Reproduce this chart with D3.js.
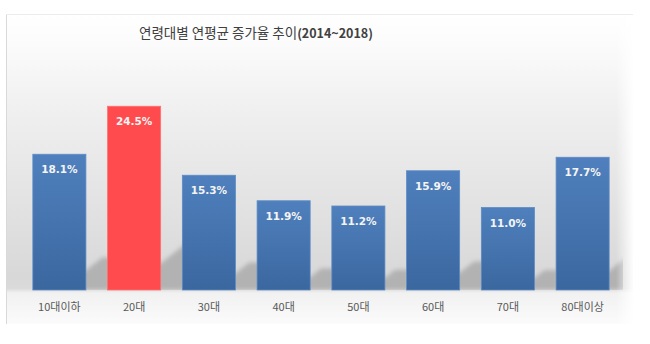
<!DOCTYPE html>
<html><head><meta charset="utf-8">
<script src="https://cdn.jsdelivr.net/npm/d3@7"></script>
<style>body{margin:0;background:#fff;}svg{display:block;}</style>
</head><body><svg id="c" width="650" height="344"></svg>
<script>
const categories = ["10대이하","20대","30대","40대","50대","60대","70대","80대이상"];
const values = [18.1,24.5,15.3,11.9,11.2,15.9,11.0,17.7];
const highlight = ["20대"];
const titleMain = "연령대별 연평균 증가율 추이";
const titleYears = "(2014~2018)";

const svg = d3.select("#c");
const defs = svg.append("defs");
const bg = defs.append("linearGradient").attr("id","bg").attr("x1",0).attr("y1",0).attr("x2",0).attr("y2",1);
[[0,"#ffffff"],[0.1,"#fbfbfb"],[0.3,"#f0f0f0"],[0.6,"#e3e3e3"],[0.85,"#d8d8d8"],[0.885,"#dadada"],[0.9,"#f1f1f1"],[1,"#fbfbfb"]]
 .forEach(([o,c])=>bg.append("stop").attr("offset",o).attr("stop-color",c));
const bb = defs.append("linearGradient").attr("id","bb").attr("x1",0).attr("y1",0).attr("x2",0).attr("y2",1);
bb.append("stop").attr("offset",0).attr("stop-color","#4f80bd");
bb.append("stop").attr("offset",1).attr("stop-color","#3b679f");
defs.append("filter").attr("id","blur").attr("x","-20%").attr("y","-50%").attr("width","140%").attr("height","200%")
  .append("feGaussianBlur").attr("stdDeviation",2.2);
defs.append("clipPath").attr("id","clip").append("rect").attr("x",6).attr("y",14).attr("width",617).attr("height",276);
const fade = defs.append("linearGradient").attr("id","fade").attr("x1",0).attr("y1",0).attr("x2",1).attr("y2",0);
fade.append("stop").attr("offset",0).attr("stop-color","#fff").attr("stop-opacity",0);
fade.append("stop").attr("offset",1).attr("stop-color","#fff").attr("stop-opacity",1);

// panel
svg.append("rect").attr("x",6).attr("y",14).attr("width",627).attr("height",310).attr("fill","url(#bg)");

const x = d3.scaleBand().domain(categories).range([22,620]).paddingInner(0.29).paddingOuter(0.145);
const y = d3.scaleLinear().domain([0,30]).range([290,65]);

// shadows
svg.append("g").attr("clip-path","url(#clip)").append("g").attr("filter","url(#blur)")
  .selectAll("polygon").data(values).join("polygon")
  .attr("points",(d,i)=>{
    const x0=x(categories[i]), x1=x0+x.bandwidth(), b=y(0), h=(y(0)-y(d))*0.24;
    return [[x0+6,b],[x0+6,b-0.3*h],[x1,b-0.6*h],[x1+0.5*h,b-h],[x1+0.5*h+14,b-h],[x1+0.5*h+14,b]]
      .map(p=>p.join(",")).join(" ");
  })
  .attr("fill","#b2b2b2");

svg.append("rect").attr("x",616).attr("y",14).attr("width",18).attr("height",310).attr("fill","url(#fade)");
svg.append("line").attr("x1",6.5).attr("x2",6.5).attr("y1",14).attr("y2",324).attr("stroke","#d9d9d9");
svg.append("line").attr("x1",6).attr("x2",633).attr("y1",14.5).attr("y2",14.5).attr("stroke","#ececec");

// bars
svg.append("g").selectAll("rect").data(values).join("rect")
  .attr("x",(d,i)=>x(categories[i]))
  .attr("y",d=>y(d))
  .attr("width",x.bandwidth())
  .attr("height",d=>y(0)-y(d))
  .attr("fill",(d,i)=>highlight.includes(categories[i])?"#ff4b4d":"url(#bb)")
  .attr("stroke",(d,i)=>highlight.includes(categories[i])?"#ff7070":"#5d8cc6")
  .attr("stroke-width",0.8);

// value labels
svg.append("g").selectAll("text").data(values).join("text")
  .attr("x",(d,i)=>x(categories[i])+x.bandwidth()/2)
  .attr("y",d=>y(d)+19)
  .attr("text-anchor","middle")
  .attr("font-family","'DejaVu Sans', Verdana, sans-serif")
  .attr("font-weight","bold").attr("font-size",10.5).attr("fill","#f4f4f4")
  .text(d=>d.toFixed(1)+"%");

// axis labels
const ax = svg.append("g").attr("transform",`translate(0,${y(0)})`)
  .call(d3.axisBottom(x).tickSize(0).tickPadding(13));
ax.select(".domain").remove();
ax.selectAll("text").attr("font-family","'Noto Sans CJK KR', sans-serif").attr("font-size",11).attr("fill","#595959");

// title
const t = svg.append("text").attr("x",256).attr("y",38).attr("text-anchor","middle")
  .attr("font-family","'Noto Sans CJK KR', sans-serif").attr("font-size",13.5).attr("fill","#404040");
t.append("tspan").text(titleMain);
t.append("tspan").attr("font-weight","bold").attr("font-size",12.5).text(titleYears);
</script></body></html>
